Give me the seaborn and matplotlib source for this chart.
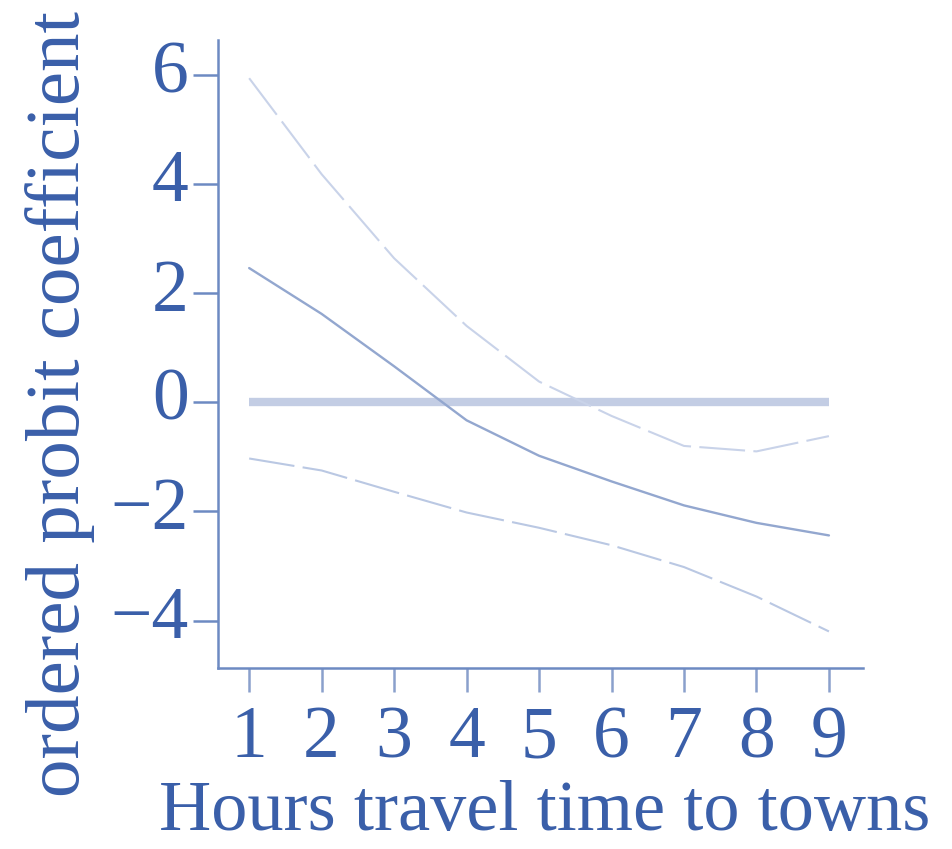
import numpy as np
import pandas as pd
import matplotlib
matplotlib.use("Agg")
import matplotlib.pyplot as plt
import matplotlib.transforms as mtransforms
import seaborn as sns

# Travel time (hours) and ordered probit coefficient with confidence bounds
hours = [1, 2, 3, 4, 5, 6, 7, 8, 9]
coef = [2.46, 1.62, 0.66, -0.33, -0.98, -1.45, -1.89, -2.21, -2.44]
upper = [5.94, 4.18, 2.64, 1.40, 0.38, -0.25, -0.80, -0.90, -0.62]
lower = [-1.03, -1.25, -1.64, -2.02, -2.30, -2.62, -3.02, -3.56, -4.20]
zero = [0] * len(hours)

xticks = [1, 2, 3, 4, 5, 6, 7, 8, 9]
yticks = [-4, -2, 0, 2, 4, 6]
xlabel = "Hours travel time to towns"
ylabel = "ordered probit coefficient"

df = pd.DataFrame({"hours": hours, "coef": coef, "upper": upper,
                   "lower": lower, "zero": zero})

sns.set_theme(style="ticks")
plt.rcParams["font.family"] = ["Liberation Serif", "DejaVu Serif"]
plt.rcParams["axes.unicode_minus"] = True

text_c = "#3a5fa9"
spine_c = "#6d8ac2"

fig = plt.figure(figsize=(9.53, 8.49), dpi=100)
ax = fig.add_axes([218 / 953, 1 - 668 / 849, 645 / 953, 628 / 849])

sns.lineplot(data=df, x="hours", y="zero", ax=ax, color="#c3cde4",
             linewidth=6.0, solid_capstyle="butt")
sns.lineplot(data=df, x="hours", y="upper", ax=ax, color="#c9d3e9",
             linewidth=1.5)
ax.lines[-1].set_dashes((22, 4))
sns.lineplot(data=df, x="hours", y="lower", ax=ax, color="#bac8e3",
             linewidth=1.5)
ax.lines[-1].set_dashes((22, 4))
sns.lineplot(data=df, x="hours", y="coef", ax=ax, color="#93a7cf",
             linewidth=1.7)

ax.set_xlim(0.57, 9.47)
ax.set_ylim(-4.87, 6.64)
ax.set_xticks(xticks)
ax.set_yticks(yticks)
ax.set_xticklabels([str(v) for v in xticks])
ax.set_yticklabels([f"{v}".replace("-", "\u2212") for v in yticks])

for side in ("top", "right"):
    ax.spines[side].set_visible(False)
for side in ("left", "bottom"):
    ax.spines[side].set_color(spine_c)
    ax.spines[side].set_linewidth(1.8)

ax.tick_params(axis="y", direction="out", length=18, width=1.8,
               color=spine_c, labelcolor=text_c, labelsize=53, pad=3)
ax.tick_params(axis="x", direction="out", length=17, width=1.8,
               color="#8aa0cc", labelcolor=text_c, labelsize=53, pad=10)

# nudge y tick labels slightly upward
shift = mtransforms.ScaledTranslation(0, 6 / 72, fig.dpi_scale_trans)
for lab in ax.get_yticklabels():
    lab.set_transform(lab.get_transform() + shift)

ax.set_xlabel(xlabel, fontsize=52, color=text_c)
ax.set_ylabel(ylabel, fontsize=55.5, color=text_c)
ax.xaxis.set_label_coords(0.507, -0.178)
ax.yaxis.set_label_coords(-0.19, 0.42)

fig.savefig("out.png", dpi=100)
